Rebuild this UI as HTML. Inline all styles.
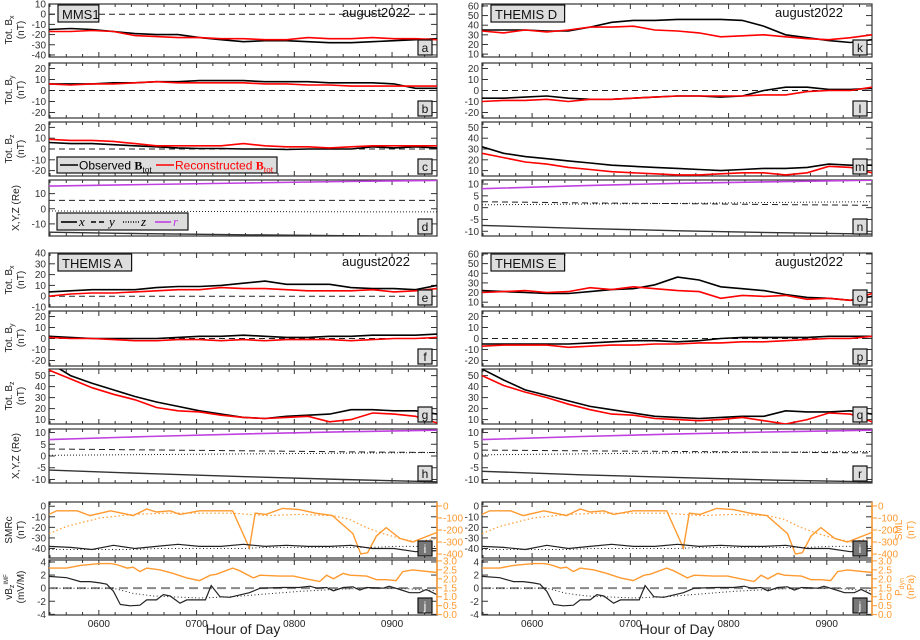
<!DOCTYPE html>
<html><head><meta charset="utf-8"><style>
html,body{margin:0;padding:0;background:#fff;}
svg{display:block;font-family:"Liberation Sans",sans-serif;}
</style></head><body>
<svg id="chart" width="920" height="640" viewBox="0 0 920 640" xmlns="http://www.w3.org/2000/svg"></svg>
<script>
// ---------- data ----------
const times = [5.49,5.71,5.93,6.15,6.37,6.59,6.81,7.03,7.25,7.48,7.70,7.92,8.14,8.36,8.58,8.80,9.02,9.24,9.46];
// MMS1
const aObs = [-15,-14,-15,-17,-19,-20,-20,-23,-25,-27,-26,-26,-27,-28,-28,-27,-26,-25,-24];
const aRec = [-17,-17,-16,-17,-21,-22,-23,-23,-24,-24,-25,-25,-23,-24,-24,-23,-24,-24,-25];
const bObs = [6,6,6,7,7,8,8,9,9,9,8,8,8,7,7,7,6,2,2];
const bRec = [6,5,6,6,7,8,7,7,7,7,6,6,5,5,4,4,4,4,4];
const cObs = [6,5,5,4,3,2,1,0.5,0.5,0,0,-0.5,0,0,0,2,1,2,1];
const cRec = [9,8,8,7,5,3,3,3,3,5,3,2,2,1,2,3,3,3,3];
// THEMIS D
const kObs = [35,35,35,34,34,38,43,45,45,46,46,46,45,39,30,27,24,22,25];
const kRec = [34,32,35,33,35,38,38,39,35,34,32,28,29,30,28,26,25,27,30];
const lObs = [-7,-7,-6,-5,-7,-8,-8,-7,-6,-5,-5,-6,-5,0,3,3,1,1,2];
const lRec = [-10,-9,-9,-8,-10,-8,-8,-7,-6,-5,-5,-5,-5,-4,-4,-1,0,0,3];
const mObs = [32,26,23,21,19,17,15,14,13,12,11,10,11,12,12,13,16,15,15];
const mRec = [26,22,18,16,13,11,9,8,7,6,6,7,8,8,6,8,14,13,8];
// THEMIS A
const eObs = [4,5,6,6,6,8,9,9,10,12,14,11,11,11,8,7,7,6,10];
const eRec = [0,2,3,3,4,5,6,6,8,7,7,6,5,5,5,6,4,5,7];
const fObs = [2,1,0,0,0,0,1,2,2,3,2,1,1,2,2,3,3,3,4];
const fRec = [1,0,0,-1,-2,-2,-1,-1,-2,-1,-2,-1,-1,-1,-2,-1,0,0,1];
const gObs = [62,50,43,37,31,26,22,18,15,12,11,13,14,15,19,19,18,18,15];
const gRec = [55,47,39,33,28,21,18,17,14,12,11,12,13,8,10,16,15,13,7];
// THEMIS E
const oObs = [22,21,20,19,19,21,23,24,28,36,33,26,24,22,18,15,14,12,16];
const oRec = [20,21,22,20,21,25,23,26,24,22,21,14,17,16,17,13,14,12,19];
const pObs = [-5,-5,-5,-5,-5,-4,-3,-2,-2,-3,-2,0,1,1,1,1,2,2,2];
const pRec = [-7,-6,-6,-6,-8,-7,-6,-6,-5,-5,-4,-4,-3,-3,-2,-1,0,0,2];
const qObs = [56,46,37,32,27,22,19,16,13,12,11,12,13,13,18,17,17,18,15];
const qRec = [50,41,35,30,24,19,15,14,11,10,9,10,12,9,6,10,16,15,8];
// positions
const posTimes = [5.49,6.5,7.5,8.5,9.46];
const dR = [15,16,17,18,18.7], dY = [5.5,5.5,5.5,5.5,5.5], dZ = [-1.5,-1.7,-1.9,-2,-2.1], dX = [-15.5,-16.5,-17.2,-17.8,-18.3];
const nR = [8,9.3,10.3,11,11.6], nY = [2.5,2,1.7,1.3,1.0], nZ = [1.2,1.5,1.8,2.2,2.5], nX = [-7.5,-8.8,-9.8,-10.6,-11.2];
const hR = [7,8.3,9.4,10.3,11], hY = [3,2.6,2.2,1.8,1.5], hZ = [0.3,0.6,0.9,1.2,1.5], hX = [-6,-7.5,-8.8,-10,-11];
const rR = [7,8.3,9.4,10.3,11], rY = [2.5,2.2,1.9,1.6,1.3], rZ = [0.5,0.9,1.3,1.6,1.9], rX = [-6.5,-8,-9.2,-10.3,-11];
// indices
const smrVals = [-38,-39,-41,-37,-40,-38,-36,-38,-38,-36,-38,-37,-38,-38,-37,-40,-40,-43,-42];
const smrModel = [-41,-41,-41,-41,-41,-40,-40,-40,-40,-40,-39,-39,-39,-39,-39,-39,-38,-38,-38];
const smlTimes = [5.49,5.57,5.78,5.91,6.12,6.35,6.49,6.59,6.73,6.83,7.03,7.37,7.54,7.60,7.71,7.88,8.05,8.22,8.39,8.53,8.60,8.68,8.75,8.84,8.94,9.08,9.21,9.46];
const smlVals = [-70,-40,-40,-80,-40,-80,-25,-50,-40,-70,-40,-40,-350,-60,-70,-20,-30,-60,-80,-180,-230,-400,-390,-250,-180,-270,-300,-220];
const smlModelTimes = [5.49,5.67,6.01,6.35,6.69,7.03,7.37,7.71,8.05,8.39,8.56,8.74,8.91,9.08,9.25,9.46];
const smlModel = [-230,-170,-100,-70,-60,-60,-60,-80,-70,-80,-110,-180,-230,-270,-300,-270];
const vbzTimes = [5.49,5.67,5.81,5.91,6.01,6.08,6.15,6.22,6.32,6.42,6.49,6.59,6.66,6.73,6.83,6.90,7.03,7.09,7.15,7.24,7.34,7.54,7.65,7.88,8.05,8.16,8.23,8.33,8.40,8.50,8.60,8.67,8.74,8.91,8.97,9.08,9.18,9.28,9.35,9.46];
const vbzVals = [1.8,1.6,1.0,1.0,0.8,0.6,-0.5,-2.5,-2.7,-2.6,-1.8,-1.8,-1.0,-1.2,-2.3,-1.8,-1.8,-1.8,0.4,-1.3,-1.4,-0.7,0,0.1,0.1,0.3,0.0,0.1,-0.4,0.1,0.2,-0.3,0.1,0.0,0.3,-0.2,-0.7,-0.7,-0.2,-1.0];
const vbzModelTimes = [5.49,6.01,6.15,6.35,6.56,7.03,7.37,7.71,8.05,8.40,8.74,9.08,9.46];
const vbzModel = [0,0,0,-0.8,-1.2,-1.5,-1.3,-0.9,-0.5,-0.2,0,0,-0.4];
const pdynTimes = [5.49,5.67,5.81,6.01,6.12,6.18,6.29,6.35,6.42,6.49,6.63,6.76,6.90,7.03,7.14,7.20,7.37,7.44,7.58,7.65,7.85,7.99,8.12,8.26,8.33,8.40,8.50,8.57,8.74,8.84,8.94,9.04,9.11,9.21,9.46];
const pdynVals = [2.6,2.6,2.75,2.85,2.85,2.8,2.6,2.65,2.4,2.6,2.5,2.3,2.05,1.9,2.2,2.25,2.6,2.45,2.05,2.2,2.15,2.15,2.0,1.85,2.2,2.0,2.3,2.2,2.15,1.95,1.95,1.9,2.4,2.5,2.35];
const hourTicks = [6,7,8,9];
const hourLabels = ["0600","0700","0800","0900"];

// ---------- drawing ----------
const svg = document.getElementById('chart');
const NS = 'http://www.w3.org/2000/svg';
function mk(tag, attrs, parent){ const e=document.createElementNS(NS,tag); for(const k in attrs) e.setAttribute(k,attrs[k]); (parent||svg).appendChild(e); return e; }
const T0=5.49, T1=9.46;
const cols = {L:{x0:49,x1:437}, R:{x0:482,x1:872}};
function sx(c,t){ return c.x0 + (t-T0)/(T1-T0)*(c.x1-c.x0); }
function sy(p,v){ return p.y1 - (v-p.ymin)/(p.ymax-p.ymin)*(p.y1-p.y0); }
let clipId=0;
function panel(col, y0, y1, ymin, ymax, ticks, name){
  const c=cols[col];
  const p={c:c,x0:c.x0,x1:c.x1,y0:y0,y1:y1,ymin:ymin,ymax:ymax};
  const g=mk('g',{});  
  p.g=g;
  const id='clip'+(clipId++);
  const cp=mk('clipPath',{id:id},g); mk('rect',{x:c.x0,y:y0,width:c.x1-c.x0,height:y1-y0},cp);
  p.clip='url(#'+id+')';
  ticks.forEach(v=>{ const y=sy(p,v); if(y<y0-1||y>y1+1) return;
    mk('line',{x1:c.x0,y1:y,x2:c.x0+6,y2:y,stroke:'#333','stroke-width':1},g);
    mk('line',{x1:c.x1,y1:y,x2:c.x1-6,y2:y,stroke:'#333','stroke-width':1},g);
    const t=mk('text',{x:c.x0-3,y:y+3.5,'text-anchor':'end','font-size':10,fill:'#333'},g); t.textContent=String(v);
     
  });
  for(let h=5.5;h<=9.46;h+=1/6){ const x=sx(c,h); const major=Math.abs(h-Math.round(h))<0.01; const L=major?5:3;
    mk('line',{x1:x,y1:y0,x2:x,y2:y0+L,stroke:'#333'},g); mk('line',{x1:x,y1:y1,x2:x,y2:y1-L,stroke:'#333'},g); }
  mk('rect',{x:c.x0,y:y0,width:c.x1-c.x0,height:y1-y0,fill:'none',stroke:'#333','stroke-width':1.2},g);
  return p;
}
function series(p, ts, vs, color, width, dash, name, axis){
  const pp = axis||p;
  const d = ts.map((t,i)=>(i?'L':'M')+sx(p.c,t).toFixed(1)+','+sy(pp,vs[i]).toFixed(1)).join(' ');
  const e=mk('path',{d:d,fill:'none',stroke:color,'stroke-width':width,'clip-path':p.clip},p.g);
  if(dash) e.setAttribute('stroke-dasharray',dash);
   
}
function hline(p,v,dash,color,w){ const y=sy(p,v); const e=mk('line',{x1:p.x0,y1:y,x2:p.x1,y2:y,stroke:color||'#222','stroke-width':w||1,'stroke-dasharray':dash},p.g);
    }
function tag(p,letter,dark){ const x=p.x1-19,y=p.y1-17;
  const g=mk('g',{},p.g);  
  mk('rect',{x:x,y:y,width:14,height:15,fill:dark?'#777':'#ddd',stroke:'#111','stroke-width':1.2},g);
  const t=mk('text',{x:x+7,y:y+12,'text-anchor':'middle','font-size':12,fill:dark?'#fff':'#111'},g); t.textContent=letter; }
function title(p,txt){ const g=mk('g',{},p.g);  
  mk('rect',{x:p.x0+9,y:p.y0+1,width:txt.length*8.2+8,height:17,fill:'#ddd',stroke:'#111','stroke-width':1.2},g);
  const t=mk('text',{x:p.x0+13,y:p.y0+15,'font-size':13,fill:'#111'},g); t.textContent=txt;
  const d=mk('text',{x:p.x0+293,y:p.y0+13,'font-size':13,fill:'#111'},p.g); d.textContent='august2022';
    }
function ylab(x,yc,lines,color){ lines.forEach((l,i)=>{ const t=mk('text',{x:0,y:0,'text-anchor':'middle','font-size':10,fill:color||'#222',transform:`translate(${x+i*12},${yc}) rotate(-90)`}); t.innerHTML=l;
    }); }
function obsRec(p,o,r,nm){ series(p,times,o,'#000',1.6,null,nm+'-observed'); series(p,times,r,'#f00',1.6,null,nm+'-reconstructed'); }
function posPanel(p,X,Y,Z,R,nm){
  series(p,posTimes,R,'#c040e0',1.6,null,nm+'-r');
  series(p,posTimes,Y,'#222',1,'6,4',nm+'-y');
  series(p,posTimes,Z,'#222',1,'1,2',nm+'-z');
  series(p,posTimes,X,'#333',1.4,null,nm+'-x');
}
const bt=[20,10,0,-10,-20];
let a=panel('L',4,57,-42,10,[10,0,-10,-20,-30,-40],'panel-a'); hline(a,0,'6,4'); obsRec(a,aObs,aRec,'bx'); title(a,'MMS1'); tag(a,'a');
let b=panel('L',63,118,-25,25,bt,'panel-b'); hline(b,0,'6,4'); obsRec(b,bObs,bRec,'by'); tag(b,'b');
let c=panel('L',122,176,-25,25,bt,'panel-c'); hline(c,0,'6,4'); obsRec(c,cObs,cRec,'bz'); tag(c,'c');
let d=panel('L',180,236,-18,19,[10,0,-10],'panel-d'); posPanel(d,dX,dY,dZ,dR,'pos'); tag(d,'d');
(function(){ const g=mk('g',{});  
  mk('rect',{x:57,y:157,width:220,height:16,fill:'#ddd',stroke:'#111','stroke-width':1.2},g);
  mk('line',{x1:60,y1:165,x2:78,y2:165,stroke:'#000','stroke-width':1.6},g);
  let t=mk('text',{x:79,y:169.5,'font-size':12,fill:'#000'},g); t.innerHTML='Observed <tspan font-family="Liberation Serif" font-weight="bold">B</tspan><tspan font-family="Liberation Serif" font-size="9" dy="3">tot</tspan>';
  mk('line',{x1:156,y1:165,x2:174,y2:165,stroke:'#f00','stroke-width':1.6},g);
  t=mk('text',{x:175,y:169.5,'font-size':12,fill:'#f00'},g); t.innerHTML='Reconstructed <tspan font-family="Liberation Serif" font-weight="bold">B</tspan><tspan font-family="Liberation Serif" font-size="9" dy="3">tot</tspan>';
})();
(function(){ const g=mk('g',{});  
  mk('rect',{x:57,y:213,width:131,height:17,fill:'#ddd',stroke:'#111','stroke-width':1.2},g);
  const it=[['#000',null,'x',61],['#000','5,3','y',91],['#000','1,1.5','z',123],['#c040e0',null,'r',155]];
  it.forEach(i=>{ const l=mk('line',{x1:i[3],y1:222,x2:i[3]+16,y2:222,stroke:i[0],'stroke-width':1.6},g); if(i[1]) l.setAttribute('stroke-dasharray',i[1]);
    const t=mk('text',{x:i[3]+18,y:226,'font-size':13,'font-style':'italic','font-family':'Liberation Serif',fill:i[0]},g); t.textContent=i[2]; });
})();
let k=panel('R',4,57,7,62,[60,50,40,30,20,10],'panel-k'); obsRec(k,kObs,kRec,'bx-d'); title(k,'THEMIS D'); tag(k,'k');
let l=panel('R',63,118,-25,25,bt,'panel-l'); hline(l,0,'6,4'); obsRec(l,lObs,lRec,'by-d'); tag(l,'l');
let m=panel('R',122,176,5,55,[50,40,30,20,10],'panel-m'); obsRec(m,mObs,mRec,'bz-d'); tag(m,'m');
let n=panel('R',180,236,-12,11.7,[10,5,0,-5,-10],'panel-n'); posPanel(n,nX,nY,nZ,nR,'pos-d'); tag(n,'n');
let e=panel('L',253,307,-10,40,[40,30,20,10,0,-10],'panel-e'); hline(e,0,'6,4'); obsRec(e,eObs,eRec,'bx-a'); title(e,'THEMIS A'); tag(e,'e');
let f=panel('L',311,366,-25,25,bt,'panel-f'); hline(f,0,'6,4'); obsRec(f,fObs,fRec,'by-a'); tag(f,'f');
let g=panel('L',369,424,6,56,[50,40,30,20,10],'panel-g'); obsRec(g,gObs,gRec,'bz-a'); tag(g,'g');
let h=panel('L',429,483,-11.5,11.5,[10,5,0,-5,-10],'panel-h'); posPanel(h,hX,hY,hZ,hR,'pos-a'); tag(h,'h');
let o=panel('R',253,307,5,61,[60,50,40,30,20,10],'panel-o'); obsRec(o,oObs,oRec,'bx-e'); title(o,'THEMIS E'); tag(o,'o');
let p=panel('R',311,366,-25,25,bt,'panel-p'); hline(p,0,'6,4'); obsRec(p,pObs,pRec,'by-e'); tag(p,'p');
let q=panel('R',369,424,6,56,[50,40,30,20,10],'panel-q'); obsRec(q,qObs,qRec,'bz-e'); tag(q,'q');
let r=panel('R',429,483,-11.5,11.5,[10,5,0,-5,-10],'panel-r'); posPanel(r,rX,rY,rZ,rR,'pos-e'); tag(r,'r');
['L','R'].forEach(col=>{
  const pi=panel(col,502,558,-49,4,[0,-10,-20,-30,-40],'panel-i-'+col);
  const ai={c:pi.c,y0:502,y1:558,ymin:-433,ymax:33};
  series(pi,smlModelTimes,smlModel,'#ff9a30',1.2,'1.5,2.5','sml-model',ai);
  series(pi,smlTimes,smlVals,'#ff9a30',1.4,null,'sml',ai);
  series(pi,times,smrModel,'#222',1,'1,2.5','smr-model');
  series(pi,times,smrVals,'#222',1.2,null,'smrc');
  tag(pi,'i',true);
  const pj=panel(col,560,615,-4.1,4.3,[4,2,0,-2,-4],'panel-j-'+col);
  const aj={c:pj.c,y0:560,y1:615,ymin:-0.02,ymax:3.05};
  hline(pj,0,'9,5','#888',2);
  series(pj,pdynTimes,pdynVals,'#ff9a30',1.4,null,'pdyn',aj);
  series(pj,vbzModelTimes,vbzModel,'#222',1,'1,2.5','vbz-model');
  series(pj,vbzTimes,vbzVals,'#222',1.2,null,'vbz');
  tag(pj,'j',true);
  const xr=pi.c.x1;
  mk('line',{x1:xr,y1:502,x2:xr,y2:615,stroke:'#ff9a30','stroke-width':1.5});
  [0,-100,-200,-300,-400].forEach(v=>{ const y=sy(ai,v); mk('line',{x1:xr,y1:y,x2:xr+5,y2:y,stroke:'#ff9a30'});
    const t=mk('text',{x:xr+6,y:y+3.5,'font-size':10,fill:'#ff9a30'}); t.textContent=String(v);
      });
  [0,0.5,1,1.5,2,2.5,3].forEach(v=>{ const y=sy(aj,v); mk('line',{x1:xr,y1:y,x2:xr+5,y2:y,stroke:'#ff9a30'});
    const t=mk('text',{x:xr+6,y:y+3.5,'font-size':10,fill:'#ff9a30'}); t.textContent=v.toFixed(1);
      });
  hourTicks.forEach((hh,i)=>{ const t=mk('text',{x:sx(pi.c,hh),y:627,'text-anchor':'middle','font-size':10,fill:'#222'}); t.textContent=hourLabels[i];
      });
  const xt=mk('text',{x:(pi.c.x0+pi.c.x1)/2,y:634,'text-anchor':'middle','font-size':14,fill:'#222'}); xt.textContent='Hour of Day';
   
});
ylab(12,30,['Tot. B<tspan font-size="7" dy="2">x</tspan>','(nT)']);
ylab(12,90,['Tot. B<tspan font-size="7" dy="2">y</tspan>','(nT)']);
ylab(12,149,['Tot. B<tspan font-size="7" dy="2">z</tspan>','(nT)']);
ylab(19,208,['X,Y,Z (Re)']);
ylab(12,280,['Tot. B<tspan font-size="7" dy="2">x</tspan>','(nT)']);
ylab(12,338,['Tot. B<tspan font-size="7" dy="2">y</tspan>','(nT)']);
ylab(12,396,['Tot. B<tspan font-size="7" dy="2">z</tspan>','(nT)']);
ylab(19,456,['X,Y,Z (Re)']);
ylab(12,530,['SMRc','(nT)']);
ylab(12,587,['vB<tspan font-size="7" dy="2">z</tspan><tspan font-size="6" dy="-6">IMF</tspan>','(mV/M)']);
ylab(902,530,['SML','(nT)'],'#ff9a30');
ylab(902,587,['P<tspan font-size="7" dy="2">dyn</tspan>','(nPa)'],'#ff9a30');
</script>
</body></html>
